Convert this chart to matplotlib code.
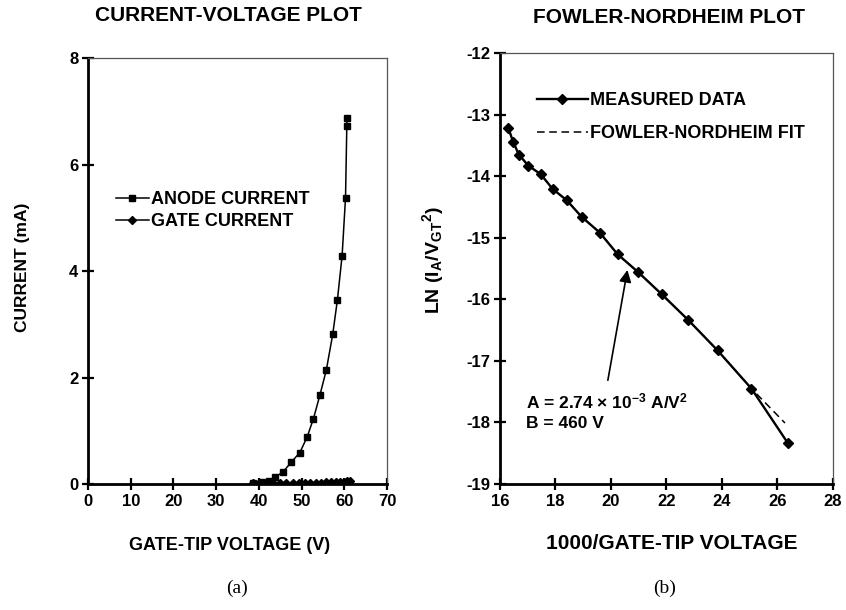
import matplotlib.pyplot as plt
from matplotlib.lines import Line2D

plt.rcParams['font.family'] = ['Liberation Sans', 'DejaVu Sans']
plt.rcParams['font.weight'] = 'bold'
plt.rcParams['axes.unicode_minus'] = False
plt.rcParams['mathtext.fontset'] = 'custom'
plt.rcParams['mathtext.rm'] = 'Liberation Sans:bold'
plt.rcParams['mathtext.it'] = 'Liberation Sans:bold'
plt.rcParams['mathtext.bf'] = 'Liberation Sans:bold'

# current-voltage data (V, mA)
anode_v = [60.7, 60.6, 60.3, 59.5, 58.4, 57.3, 55.8, 54.3, 52.8, 51.3, 49.6,
           47.6, 45.7, 43.9, 42.4, 40.7, 38.6]
anode_i = [6.88, 6.72, 5.38, 4.29, 3.46, 2.81, 2.14, 1.67, 1.23, 0.88, 0.59,
           0.41, 0.23, 0.13, 0.06, 0.03, 0.02]
gate_v = [61.3, 60.6, 59.9, 59.0, 58.0, 56.9, 55.8, 54.6, 53.3, 52.0, 50.7,
          49.4, 47.9, 46.4, 44.9, 43.3, 41.7, 40.1, 38.6]
gate_i = [0.05, 0.05, 0.04, 0.04, 0.03, 0.03, 0.03, 0.02, 0.02, 0.02, 0.01,
          0.01, 0.01, 0.01, 0.01, 0.01, 0.01, 0.01, 0.01]

# Fowler-Nordheim data
fn_x = [16.30, 16.48, 16.68, 17.02, 17.47, 17.90, 18.40, 18.94, 19.60, 20.24,
        20.98, 21.83, 22.79, 23.84, 25.06, 26.38]
fn_y = [-13.22, -13.45, -13.65, -13.83, -13.97, -14.21, -14.39, -14.66, -14.92,
        -15.27, -15.56, -15.92, -16.34, -16.83, -17.45, -18.34]
fit_x = [16.30, 16.48, 16.68, 17.02, 17.47, 17.90, 18.40, 18.94, 19.60, 20.24,
         20.98, 21.83, 22.79, 23.84, 25.06, 26.27]
fit_y = [-13.22, -13.45, -13.65, -13.83, -13.97, -14.21, -14.39, -14.66, -14.92,
         -15.27, -15.56, -15.92, -16.34, -16.83, -17.45, -18.01]

tick_fs = 12
legend_fs = 13


def style_axes(ax):
    for side in ['left', 'bottom']:
        ax.spines[side].set_linewidth(2.0)
    for side in ['top', 'right']:
        ax.spines[side].set_linewidth(0.9)
        ax.spines[side].set_color('#555555')
    ax.tick_params(direction='inout', length=8, width=1.6, labelsize=tick_fs,
                   pad=3, top=False, right=False)
    for lab in ax.get_xticklabels() + ax.get_yticklabels():
        lab.set_fontweight('bold')


fig = plt.figure(figsize=(8.46, 6.10), dpi=100)

# (a) current-voltage
ax1 = fig.add_axes([0.104, 0.2066, 0.3534, 0.698])
ax1.plot(anode_v, anode_i, color='black', lw=1.1, marker='s', ms=4.5,
         label='ANODE CURRENT')
ax1.plot(gate_v, gate_i, color='black', lw=1.1, marker='D', ms=3.8,
         label='GATE CURRENT')
ax1.set_xlim(0, 70)
ax1.set_ylim(0, 8)
ax1.set_xticks(range(0, 71, 10))
ax1.set_yticks([0, 2, 4, 6, 8])
style_axes(ax1)
ax1.set_xlabel('GATE-TIP VOLTAGE (V)', fontsize=13, fontweight='bold')
ax1.xaxis.set_label_coords(0.472, -0.125)
ax1.set_ylabel('CURRENT (mA)', fontsize=12.5, fontweight='bold')
ax1.yaxis.set_label_coords(-0.194, 0.509)
fig.text(0.2695, 0.975, 'CURRENT-VOLTAGE PLOT', fontsize=15,
         fontweight='bold', ha='center', va='center')
ax1.legend(loc='upper left', bbox_to_anchor=(0.07, 0.705), frameon=False,
           handlelength=1.8, handletextpad=0.15, labelspacing=0.3,
           borderaxespad=0, prop={'size': legend_fs, 'weight': 'bold'})

# (b) Fowler-Nordheim
ax2 = fig.add_axes([0.591, 0.2066, 0.3936, 0.7066])
ax2.plot(fit_x, fit_y, color='black', lw=1.1, ls=(0, (5, 3)))
ax2.plot(fn_x, fn_y, color='black', lw=1.7, marker='D', ms=5)
ax2.set_xlim(16, 28)
ax2.set_ylim(-19, -12)
ax2.set_xticks(range(16, 29, 2))
ax2.set_yticks(range(-19, -11))
style_axes(ax2)
ax2.set_xlabel('1000/GATE-TIP VOLTAGE', fontsize=15, fontweight='bold')
ax2.xaxis.set_label_coords(0.517, -0.117)
ax2.set_ylabel(r'LN (I$_\mathrm{A}$/V$_\mathrm{GT}$$^\mathrm{2}$)',
               fontsize=14, fontweight='bold')
ax2.yaxis.set_label_coords(-0.162, 0.52)
fig.text(0.791, 0.972, 'FOWLER-NORDHEIM PLOT', fontsize=15,
         fontweight='bold', ha='center', va='center')
handles = [Line2D([], [], color='black', lw=1.7, marker='D', ms=5),
           Line2D([], [], color='black', lw=1.1, ls=(0, (5, 3)))]
ax2.legend(handles, ['MEASURED DATA', 'FOWLER-NORDHEIM FIT'],
           loc='upper left', bbox_to_anchor=(0.09, 0.925), frameon=False,
           handlelength=2.8, handletextpad=0.1, labelspacing=0.85,
           borderaxespad=0, prop={'size': legend_fs, 'weight': 'bold'})

ax2.annotate('', xy=(20.61, -15.48), xytext=(19.87, -17.36),
             arrowprops=dict(arrowstyle='-|>', color='black', lw=1.2,
                             mutation_scale=18))
ax2.text(16.95, -17.66, r'A = 2.74 $\times$ 10$^{-3}$ A/V$^{2}$',
         fontsize=12.5, fontweight='bold', va='center', ha='left')
ax2.text(16.95, -18.01, 'B = 460 V', fontsize=12.5, fontweight='bold',
         va='center', ha='left')

# panel captions
fig.text(0.28, 0.036, '(a)', fontsize=14, family='Liberation Serif',
         fontweight='normal', ha='center', va='center')
fig.text(0.785, 0.036, '(b)', fontsize=14, family='Liberation Serif',
         fontweight='normal', ha='center', va='center')

fig.savefig('out.png', dpi=100)
